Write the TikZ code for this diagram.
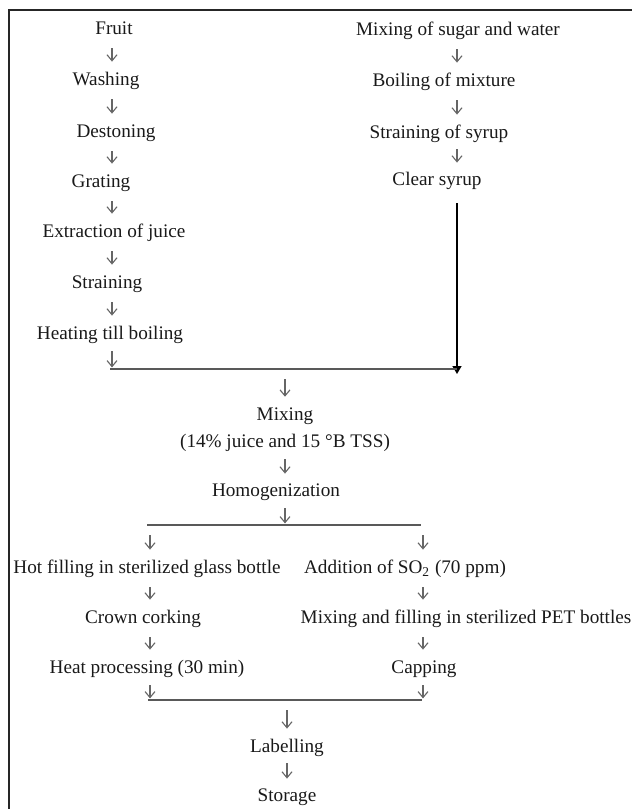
\documentclass[tikz,border=0pt]{standalone}
\usepackage{fontspec}
\setmainfont{Liberation Serif}
\usetikzlibrary{positioning, arrows.meta, calc}

\begin{document}
\begin{tikzpicture}[
    x=0.5pt, y=-0.5pt,
    stage/.style={
        font=\fontsize{9.6}{13.5}\selectfont, inner sep=0pt,
        text height=7pt, text depth=2pt, align=center, text=black!90
    },
    flow/.style={
        -{Straight Barb[length=3pt, width=5pt]}, black!60, line width=0.55pt,
        shorten <=5pt, shorten >=4.5pt
    },
    flowin/.style={flow, shorten <=4pt, shorten >=0.8pt},
    flowshort/.style={flow, shorten <=3.5pt, shorten >=4pt},
    joinline/.style={black!65, line width=0.8pt},
    syrupline/.style={-{Triangle[length=4pt, width=4.5pt]}, black, line width=0.8pt},
    frameline/.style={black!85, line width=1pt},
]

\useasboundingbox (0,0) rectangle (632,809);

% Column x-coordinates
\def\cL{112}
\def\cR{457}
\def\cM{285}
\def\cA{150}
\def\cB{423}

% Row y-coordinates of the joining lines
\def\jI{369}
\def\jII{525}
\def\jIII{700}

\coordinate (colL) at (\cL,0);
\coordinate (colR) at (\cR,0);
\coordinate (colM) at (\cM,0);
\coordinate (colA) at (\cA,0);
\coordinate (colB) at (\cB,0);

% ====== FRAME ======
\draw[frameline] (632,9.5) -- (8.5,9.5) -- (8.5,809);

% ====== JUICE BRANCH ======
\node[stage] (fruit) at (114,29) {Fruit};
\node[stage] (wash) at (106,80) {Washing};
\node[stage] (deston) at (116,132) {Destoning};
\node[stage] (grate) at (101,182) {Grating};
\node[stage] (extract) at (114,232) {Extraction of juice};
\node[stage] (strain) at (107,283) {Straining};
\node[stage] (heat) at (110,334) {Heating till boiling};

\draw[flow] (fruit.south -| colL) -- (wash.north -| colL);
\draw[flow] (wash.south -| colL) -- (deston.north -| colL);
\draw[flow] (deston.south -| colL) -- (grate.north -| colL);
\draw[flow] (grate.south -| colL) -- (extract.north -| colL);
\draw[flow] (extract.south -| colL) -- (strain.north -| colL);
\draw[flow] (strain.south -| colL) -- (heat.north -| colL);

% ====== SYRUP BRANCH ======
\node[stage] (mixsw) at (458,30) {Mixing of sugar and water};
\node[stage] (boil) at (444,81) {Boiling of mixture};
\node[stage] (strsyr) at (439,133) {Straining of syrup};
\node[stage] (clear) at (437,180) {Clear syrup};

\draw[flow] (mixsw.south -| colR) -- (boil.north -| colR);
\draw[flow] (boil.south -| colR) -- (strsyr.north -| colR);
\draw[flowshort] (strsyr.south -| colR) -- (clear.north -| colR);

% ====== JOINING ======
\coordinate (jLa) at (110,\jI);
\coordinate (jLb) at (\cR,\jI);
\coordinate (jSyr) at (\cR,374);

\draw[flowin] (heat.south -| colL) -- (colL |- jLa);
\draw[syrupline, shorten <=7pt] (clear.south -| colR) -- (jSyr);
\draw[joinline] (jLa) -- (jLb);

\node[stage, text height=, text depth=] (mix) at (285,430)
    {Mixing\\(14\% juice and 15 °B TSS)};
\node[stage] (homog) at (276,491) {Homogenization};

\draw[flow, shorten >=5.5pt] (colM |- jLa) -- (mix.north -| colM);
\draw[flowshort] (mix.south -| colM) -- (homog.north -| colM);

% ====== BOTTLING BRANCHES ======
\coordinate (jAa) at (147,\jII);
\coordinate (jAb) at (421,\jII);

\draw[flowin] (homog.south -| colM) -- (colM |- jAa);
\draw[joinline] (jAa) -- (jAb);

\node[stage] (hot) at (147,568) {Hot filling in sterilized glass bottle};
\node[stage] (crown) at (143,618) {Crown corking};
\node[stage] (heatp) at (147,668) {Heat processing (30 min)};

\node[stage] (addso) at (405,568) {Addition of SO\textsubscript{2} (70 ppm)};
\node[stage] (mixfill) at (466,618) {Mixing and filling in sterilized PET bottles};
\node[stage] (capping) at (424,668) {Capping};

\draw[flow] (colA |- jAa) -- (hot.north -| colA);
\draw[flow] (hot.south -| colA) -- (crown.north -| colA);
\draw[flow] (crown.south -| colA) -- (heatp.north -| colA);

\draw[flow] (colB |- jAa) -- (addso.north -| colB);
\draw[flow] (addso.south -| colB) -- (mixfill.north -| colB);
\draw[flow] (mixfill.south -| colB) -- (capping.north -| colB);

% ====== FINISHING ======
\coordinate (jBa) at (148,\jIII);
\coordinate (jBb) at (422,\jIII);

\draw[flowin] (heatp.south -| colA) -- (colA |- jBa);
\draw[flowin] (capping.south -| colB) -- (colB |- jBa);
\draw[joinline] (jBa) -- (jBb);

\node[stage] (label) at (287,747) {Labelling};
\node[stage] (store) at (287,796) {Storage};

\draw[flow] (label.north |- jBa) -- (label.north);
\draw[flowshort] (label.south) -- (store.north);

\end{tikzpicture}
\end{document}
